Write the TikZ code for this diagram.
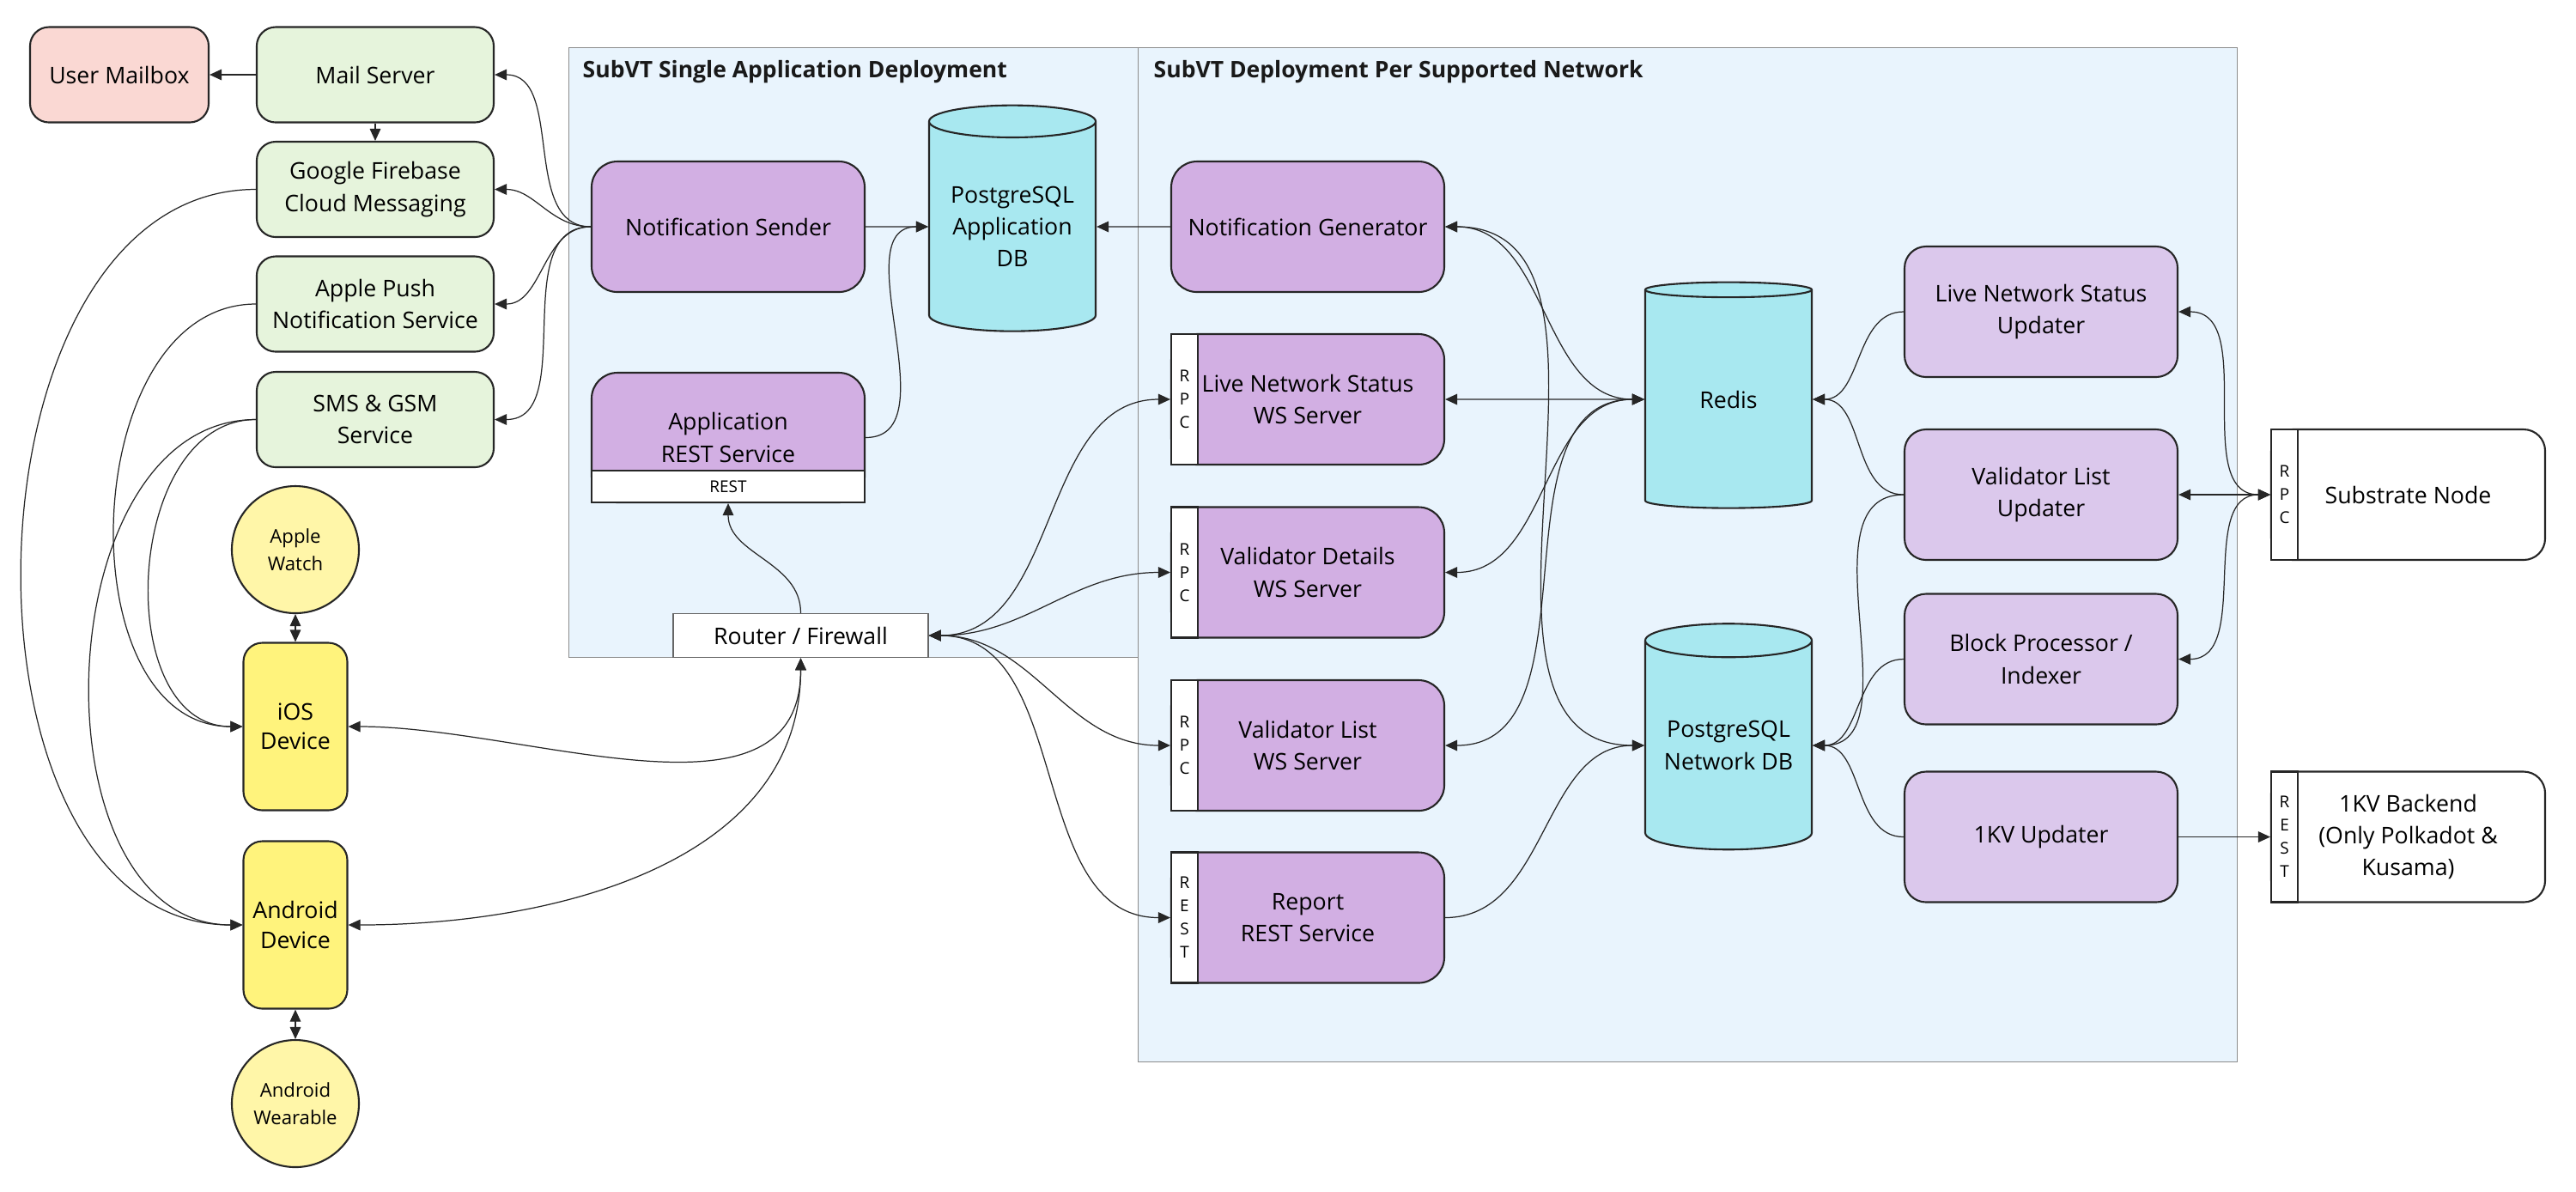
\documentclass[tikz,border=0pt]{standalone}
\usepackage{fontspec}
\setmainfont{Open Sans}
\usetikzlibrary{positioning,shapes.geometric,arrows.meta}

\definecolor{MailboxFill}{HTML}{FAD8D3}
\definecolor{GreenFill}{HTML}{E6F4DC}
\definecolor{DeviceFill}{HTML}{FFF37C}
\definecolor{WearFill}{HTML}{FFF6A8}
\definecolor{ServiceFill}{HTML}{D2AFE3}
\definecolor{UpdaterFill}{HTML}{DBC8EC}
\definecolor{DBFill}{HTML}{A8E8F0}
\definecolor{GroupFill}{HTML}{E9F4FD}

\begin{document}
\begin{tikzpicture}[
    base/.style={draw=black!85, line width=0.6pt, align=center, inner sep=0pt, font=\fontsize{7.6}{10.6}\selectfont},
    mailbox/.style={base, rounded corners=0.22cm, fill=MailboxFill, minimum width=2.08cm, minimum height=1.11cm},
    greenbox/.style={base, rounded corners=0.22cm, fill=GreenFill, minimum width=2.76cm, minimum height=1.11cm},
    device/.style={base, rounded corners=0.22cm, fill=DeviceFill, minimum width=1.21cm, minimum height=1.95cm, font=\fontsize{7.6}{9.8}\selectfont},
    wearable/.style={base, circle, fill=WearFill, minimum size=1.48cm, font=\fontsize{6.3}{9.2}\selectfont},
    service/.style={base, rounded corners=0.3cm, fill=ServiceFill, minimum width=3.18cm, minimum height=1.52cm},
    updater/.style={base, rounded corners=0.25cm, fill=UpdaterFill, minimum width=3.18cm, minimum height=1.52cm},
    external/.style={base, rounded corners=0.25cm, fill=white, minimum width=3.19cm, minimum height=1.52cm},
    dbase/.style={base, cylinder, shape border rotate=90, aspect=0.26, fill=DBFill, minimum width=1.94cm, minimum height=2.63cm},
    port/.style={base, fill=white, minimum width=0.31cm, minimum height=1.52cm, font=\fontsize{5.4}{7.7}\selectfont},
    router/.style={base, draw=black!60, line width=0.4pt, fill=white, minimum width=2.97cm, minimum height=0.51cm},
    group/.style={draw=black!45, line width=0.4pt, fill=GroupFill},
    grouptitle/.style={font=\fontsize{7.55}{10}\selectfont\bfseries, inner sep=0pt, text=black!90},
    link/.style={draw=black!85, line width=0.35pt},
    fwd/.style={link, -{Triangle[length=4pt,width=3.6pt]}},
    both/.style={link, {Triangle[length=4pt,width=3.6pt]}-{Triangle[length=4pt,width=3.6pt]}}
  ]
  \useasboundingbox (0,0) rectangle (30,-13.87);

  \node[group, anchor=north west, minimum width=6.63cm, minimum height=7.10cm] (SingleApp) at (6.62,-0.55) {};
  \node[group, anchor=north west, minimum width=12.80cm, minimum height=11.81cm] (PerNetwork) at (13.25,-0.55) {};
  \node[grouptitle, anchor=west] (SingleAppTitle) at (6.78,-0.84) {SubVT Single Application Deployment};
  \node[grouptitle, anchor=west] (PerNetworkTitle) at (13.43,-0.84) {SubVT Deployment Per Supported Network};

  \node[greenbox] (MailServer) at (4.37,-0.87) {Mail Server};
  \node[mailbox, on grid, left=2.98cm of MailServer] (Mailbox) {User Mailbox};
  \node[greenbox, on grid, below=1.335cm of MailServer] (Firebase) {Google Firebase\\Cloud Messaging};
  \node[greenbox, on grid, below=1.335cm of Firebase] (APNs) {Apple Push\\Notification Service};
  \node[greenbox, on grid, below=1.345cm of APNs] (SMS) {SMS \& GSM\\Service};

  \node[wearable] (Watch) at (3.44,-6.40) {Apple\\Watch};
  \node[device, on grid, below=2.06cm of Watch] (iOS) {iOS\\Device};
  \node[device, on grid, below=2.31cm of iOS] (Android) {Android\\Device};
  \node[wearable, on grid, below=2.08cm of Android] (Wearable) {Android\\Wearable};

  \node[service] (NotifSender) at (8.48,-2.64) {Notification Sender};
  \node[dbase, on grid, right=3.31cm of NotifSender] (AppDB) {PostgreSQL\\Application\\DB};
  \node[service, minimum height=1.51cm, on grid, below=2.455cm of NotifSender] (AppRest) {Application\\REST Service};
  \node[port, anchor=south, minimum width=3.18cm, minimum height=0.37cm, font=\fontsize{5.4}{7}\selectfont] (AppRestPort) at (AppRest.south) {REST};
  \node[router] (Router) at (9.325,-7.40) {Router / Firewall};

  \node[service] (NotifGen) at (15.23,-2.64) {Notification Generator};
  \node[service, on grid, below=2.01cm of NotifGen] (LiveWS) {Live Network Status\\WS Server};
  \node[service, on grid, below=2.015cm of LiveWS] (ValDetails) {Validator Details\\WS Server};
  \node[service, on grid, below=2.015cm of ValDetails] (ValList) {Validator List\\WS Server};
  \node[service, on grid, below=2.005cm of ValList] (Report) {Report\\REST Service};
  \node[port, anchor=north west] (LiveWSPort) at (LiveWS.north west) {R\\P\\C};
  \node[port, anchor=north west] (ValDetailsPort) at (ValDetails.north west) {R\\P\\C};
  \node[port, anchor=north west] (ValListPort) at (ValList.north west) {R\\P\\C};
  \node[port, anchor=north west] (ReportPort) at (Report.north west) {R\\E\\S\\T};

  \node[dbase, on grid, right=4.9cm of LiveWS] (Redis) {Redis};
  \node[dbase, on grid, right=4.9cm of ValList] (NetDB) {PostgreSQL\\Network DB};

  \node[updater] (LiveUpdater) at (23.77,-3.63) {Live Network Status\\Updater};
  \node[updater, on grid, below=2.13cm of LiveUpdater] (ValListUpdater) {Validator List\\Updater};
  \node[updater, on grid, below=1.915cm of ValListUpdater] (BlockProc) {Block Processor /\\Indexer};
  \node[updater, on grid, below=2.07cm of BlockProc] (OneKVUpdater) {1KV Updater};

  \node[external, on grid, right=4.275cm of ValListUpdater] (Substrate) {Substrate Node};
  \node[external, on grid, right=4.275cm of OneKVUpdater] (OneKVBackend) {1KV Backend\\(Only Polkadot \&\\Kusama)};
  \node[port, anchor=north west] (SubstratePort) at (Substrate.north west) {R\\P\\C};
  \node[port, anchor=north west] (OneKVPort) at (OneKVBackend.north west) {R\\E\\S\\T};

  \draw[fwd] (MailServer.west) -- (Mailbox.east);
  \draw[fwd] (MailServer.south) -- (Firebase.north);
  \draw[fwd] (NotifSender.west) to[out=180,in=0] (MailServer.east);
  \draw[fwd] (NotifSender.west) to[out=180,in=0] (Firebase.east);
  \draw[fwd] (NotifSender.west) to[out=180,in=0] (APNs.east);
  \draw[fwd] (NotifSender.west) to[out=180,in=0] (SMS.east);

  \draw[fwd] (Firebase.west) to[out=180,in=180,looseness=1.05] (Android.west);
  \draw[fwd] (APNs.west) to[out=180,in=180,looseness=1.08] (iOS.west);
  \draw[fwd] (SMS.west) to[out=180,in=180,looseness=1.1] (iOS.west);
  \draw[fwd] (SMS.west) to[out=180,in=180,looseness=1.07] (Android.west);
  \draw[both] (Watch.south) -- (iOS.north);
  \draw[both] (Android.south) -- (Wearable.north);
  \draw[both] (iOS.east) to[out=0,in=-90] (Router.south);
  \draw[both] (Android.east) to[out=0,in=-90] (Router.south);

  \draw[fwd] (Router.north) to[out=90,in=-90] (AppRestPort.south);
  \draw[fwd] (NotifSender.east) -- (AppDB.west);
  \draw[fwd] (AppRest.east) to[out=0,in=180] (AppDB.west);
  \draw[fwd] (NotifGen.west) -- (AppDB.east);

  \draw[both] (Router.east) to[out=0,in=180] (LiveWSPort.west);
  \draw[both] (Router.east) to[out=0,in=180] (ValDetailsPort.west);
  \draw[both] (Router.east) to[out=0,in=180] (ValListPort.west);
  \draw[both] (Router.east) to[out=0,in=180] (ReportPort.west);

  \draw[both] (LiveWS.east) -- (Redis.west);
  \draw[both] (NotifGen.east) to[out=0,in=180] (Redis.west);
  \draw[both] (NotifGen.east) to[out=0,in=180] (NetDB.west);
  \draw[both] (ValDetails.east) to[out=0,in=180] (Redis.west);
  \draw[both] (ValList.east) to[out=0,in=180] (Redis.west);
  \draw[fwd] (Report.east) to[out=0,in=180] (NetDB.west);

  \draw[fwd] (LiveUpdater.west) to[out=180,in=0] (Redis.east);
  \draw[fwd] (ValListUpdater.west) to[out=180,in=0] (Redis.east);
  \draw[fwd] (ValListUpdater.west) to[out=180,in=0] (NetDB.east);
  \draw[fwd] (BlockProc.west) to[out=180,in=0] (NetDB.east);
  \draw[fwd] (OneKVUpdater.west) to[out=180,in=0] (NetDB.east);

  \draw[both] (SubstratePort.west) to[out=180,in=0] (LiveUpdater.east);
  \draw[both] (SubstratePort.west) -- (ValListUpdater.east);
  \draw[both] (SubstratePort.west) to[out=180,in=0] (BlockProc.east);
  \draw[fwd] (OneKVUpdater.east) -- (OneKVPort.west);
\end{tikzpicture}
\end{document}
